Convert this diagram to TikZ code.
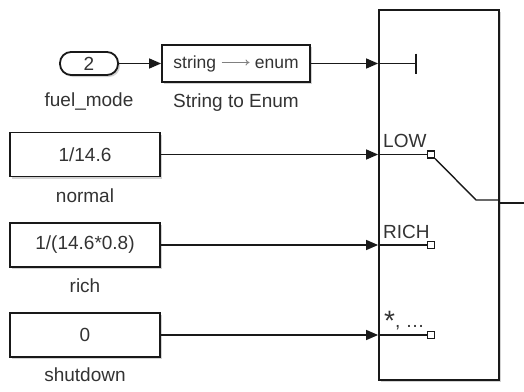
\documentclass[tikz,border=0pt]{standalone}
\usepackage{fontspec}
\setmainfont{Liberation Sans}
\usetikzlibrary{arrows.meta,positioning,calc,shadows}
\definecolor{txtgray}{HTML}{333333}
\tikzset{
    blk/.style={
        draw=black!90,
        line width=1.8pt,
        fill=white,
        minimum width=150pt,
        minimum height=44pt,
        text=txtgray,
        font=\fontsize{19}{21}\selectfont,
        drop shadow={shadow xshift=2pt, shadow yshift=-2pt, opacity=0.35}
    },
    inport/.style={
        blk,
        rounded corners=11pt,
        minimum width=58pt,
        minimum height=23pt,
        inner sep=0pt
    },
    lbl/.style={font=\fontsize{19}{21}\selectfont, text=txtgray, inner sep=0pt},
    sig/.style={
        -{Triangle[length=12pt,width=10pt]},
        line width=1.4pt,
        draw=black!90
    },
    icon/.style={line width=1.4pt, draw=black!90},
    portsq/.style={draw=black!90, line width=1.2pt, fill=white, minimum size=7pt, inner sep=0pt}
}

\begin{document}
\begin{tikzpicture}[x=1pt, y=-1pt]
\useasboundingbox (0,0) rectangle (524,391);

% source blocks
\node[inport] (fuel) at (89,63.5) {2};
\node[lbl, below=17pt of fuel] (fuellbl) {fuel\_mode};
\node[blk, minimum width=148pt, minimum height=37pt,
      font=\fontsize{17.5}{20}\selectfont] (conv) at (236,63.5)
    {string\ \tikz[baseline=-0.6ex]\draw[-{To[length=4pt,width=6pt]}, gray, line width=0.9pt] (0pt,0pt) -- (28pt,0pt);\ enum};
\node[lbl, below=11pt of conv] (convlbl) {String to Enum};

\node[blk] (normal) at (85,154.5) {1/14.6};
\node[lbl, below=11pt of normal] (normallbl) {normal};
\node[blk] (rich) at (85,245) {1/(14.6*0.8)};
\node[lbl, below=11pt of rich] (richlbl) {rich};
\node[blk] (shut) at (85,335) {0};
\node[lbl, below=10pt of shut] (shutlbl) {shutdown};

% switch block
\node[blk, minimum width=120pt, minimum height=370pt] (sw) at (439,195) {};

\draw[sig] (fuel) -- (conv);
\draw[sig] (conv.east) -- (conv.east -| sw.west);
\draw[sig] (normal.east) -- (normal.east -| sw.west);
\draw[sig] (rich.east) -- (rich.east -| sw.west);
\draw[sig] (shut.east) -- (shut.east -| sw.west);

% switch icon
\coordinate (stop) at (416,63.5);
\draw[icon] (conv.east -| sw.west) -- (stop);
\draw[icon] ($(stop)+(0,-10)$) -- ($(stop)+(0,10)$);

\node[portsq] (plow) at (431,154.5) {};
\node[portsq] (prich) at (431,245) {};
\node[portsq] (pdef) at (431,335) {};
\draw[icon] (normal.east -| sw.west) -- (plow.west);
\draw[icon] (rich.east -| sw.west) -- (prich.west);
\draw[icon] (shut.east -| sw.west) -- (pdef.west);

\node[lbl, anchor=base west] (lowlbl) at (383,147.5) {LOW};
\node[lbl, anchor=base west] (richport) at (383,238.5) {RICH};
\node[lbl, anchor=base west] (defport) at (384,327)
    {{\fontsize{28}{28}\selectfont\raisebox{-3pt}{*}}, …};

\coordinate (knee) at (476,200);
\draw[icon] (plow.south east) -- (knee) -- (knee -| sw.east);
\coordinate (out) at (524,203);
\draw[icon] (sw.east |- out) -- (out);

\end{tikzpicture}
\end{document}
